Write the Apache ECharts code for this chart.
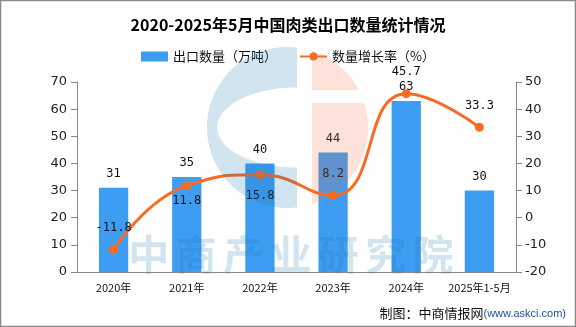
<!DOCTYPE html>
<html>
<head>
<meta charset="utf-8">
<script src="https://cdn.jsdelivr.net/npm/echarts@6/dist/echarts.min.js"></script>
<style>
html,body{margin:0;padding:0;background:#fff;}
#c{width:576px;height:327px;}
</style>
</head>
<body>
<div id="c"></div>
<script>
var categories = ['2020年', '2021年', '2022年', '2023年', '2024年', '2025年1-5月'];
var exportVolume = [31, 35, 40, 44, 63, 30];
var growthRate = [-11.8, 11.8, 15.8, 8.2, 45.7, 33.3];
var leftTicks = {min: 0, max: 70, interval: 10};
var rightTicks = {min: -20, max: 50, interval: 10};
var titleText = '2020-2025年5月中国肉类出口数量统计情况';
var seriesNames = ['出口数量（万吨）', '数量增长率（%）'];
var watermarkText = '中商产业研究院';

var chart = echarts.init(document.getElementById('c'));

var FONT = '"Noto Sans CJK SC", "DejaVu Sans", sans-serif';
var MONO = '"DejaVu Sans Mono", monospace';

var rateData = growthRate.map(function (v, i) {
  var below = (i === 1 || i === 2);
  return {
    value: v,
    label: {position: below ? 'bottom' : 'top', distance: i === 1 ? 5 : 11}
  };
});

var wmBlue = 'rgba(30,120,175,0.2)';
var wmPeach = 'rgba(240,110,60,0.2)';

// watermark logo geometry (decoration)
var LCX = 287.5, LCY = 127.5, LR = 80.5;
function arcPts(cx, cy, rx, ry, a0, a1, n) {
  var pts = [];
  for (var k = 0; k <= n; k++) {
    var a = a0 + (a1 - a0) * k / n;
    pts.push([cx + rx * Math.cos(a), cy + ry * Math.sin(a)]);
  }
  return pts;
}
function angAt(x, y) { return Math.atan2(y - LCY, x - LCX); }
var aTop = angAt(297, 47.6), aBot = angAt(297, 207.4);
var bluePts = arcPts(LCX, LCY, LR, LR, aTop, aBot - 2 * Math.PI, 80)
  .concat(arcPts(297, 127.5, 80, 40, Math.PI / 2, 3 * Math.PI / 2, 60));
var peachTop = arcPts(LCX, LCY, LR, LR, angAt(312, 50.8), angAt(358.7, 90), 30).concat([[312, 90]]);
var peachBot = [[312, 103]].concat(arcPts(LCX, LCY, LR, LR, angAt(364.2, 103), angAt(312, 204.2), 50));

var graphics = [
  {type: 'polygon', z: 100, silent: true, shape: {points: bluePts}, style: {fill: wmBlue}},
  {type: 'polygon', z: 100, silent: true, shape: {points: peachTop}, style: {fill: wmPeach}},
  {type: 'polygon', z: 100, silent: true, shape: {points: peachBot}, style: {fill: wmPeach}},
  {type: 'rect', z: 101, silent: true,
   shape: {x: 0.5, y: 0.5, width: 575, height: 326},
   style: {fill: 'none', stroke: '#8a8a8a', lineWidth: 1.5}},
  {type: 'text', right: 10, top: 307, z: 101,
   style: {
     text: '{a|制图：中商情报网}{b|(www.askci.com)}',
     rich: {
       a: {fontSize: 13, fontFamily: FONT, fill: '#111'},
       b: {fontSize: 11, fontFamily: '"Liberation Sans", sans-serif', fill: '#1f4f9f'}
     }
   }}
];
watermarkText.split('').forEach(function (ch, i) {
  graphics.push({
    type: 'text', z: 100, silent: true,
    x: 125 + i * 47.4 + 23.7, y: 254,
    style: {text: ch, fontSize: 41, fontWeight: 'bold', fontFamily: FONT,
            fill: wmBlue, align: 'center', verticalAlign: 'middle'}
  });
});

var option = {
  backgroundColor: '#fff',
  animation: false,
  title: {
    text: titleText, left: 'center', top: 12,
    textStyle: {fontSize: 16, fontWeight: 'bold', color: '#000', fontFamily: FONT}
  },
  legend: {
    top: 45, left: 'center', itemWidth: 27, itemHeight: 10, itemGap: 22,
    textStyle: {fontSize: 13, color: '#111', fontFamily: FONT},
    data: [{name: seriesNames[0], icon: 'rect'}, {name: seriesNames[1]}]
  },
  grid: {left: 77, right: 60, top: 82, bottom: 55},
  xAxis: {
    type: 'category', data: categories,
    axisLine: {lineStyle: {color: '#888'}},
    axisTick: {length: 5, lineStyle: {color: '#888'}},
    axisLabel: {fontSize: 11, color: '#111', margin: 10, fontFamily: FONT, interval: 0}
  },
  yAxis: [
    {type: 'value', min: leftTicks.min, max: leftTicks.max, interval: leftTicks.interval,
     splitLine: {show: false},
     axisLine: {show: true, lineStyle: {color: '#888'}},
     axisTick: {show: true, length: 6, lineStyle: {color: '#888'}},
     axisLabel: {fontSize: 13, color: '#222', margin: 10, fontFamily: '"DejaVu Sans", sans-serif'}},
    {type: 'value', min: rightTicks.min, max: rightTicks.max, interval: rightTicks.interval,
     splitLine: {show: false},
     axisLine: {show: true, lineStyle: {color: '#888'}},
     axisTick: {show: true, length: 6, lineStyle: {color: '#888'}},
     axisLabel: {fontSize: 13, color: '#222', margin: 9, fontFamily: '"DejaVu Sans", sans-serif'}}
  ],
  series: [
    {name: seriesNames[0], type: 'bar', yAxisIndex: 0, data: exportVolume,
     barWidth: '40%', itemStyle: {color: '#3d9df2'},
     label: {show: true, position: 'top', distance: 8, fontSize: 12, color: '#111', fontFamily: MONO}},
    {name: seriesNames[1], type: 'line', yAxisIndex: 1, data: rateData,
     smooth: true, symbol: 'circle', symbolSize: 9,
     lineStyle: {color: '#fb6a21', width: 3},
     itemStyle: {color: '#fb6a21'},
     label: {show: true, fontSize: 12, color: '#111', fontFamily: MONO}}
  ],
  graphic: {elements: graphics}
};
chart.setOption(option);
</script>
</body>
</html>
